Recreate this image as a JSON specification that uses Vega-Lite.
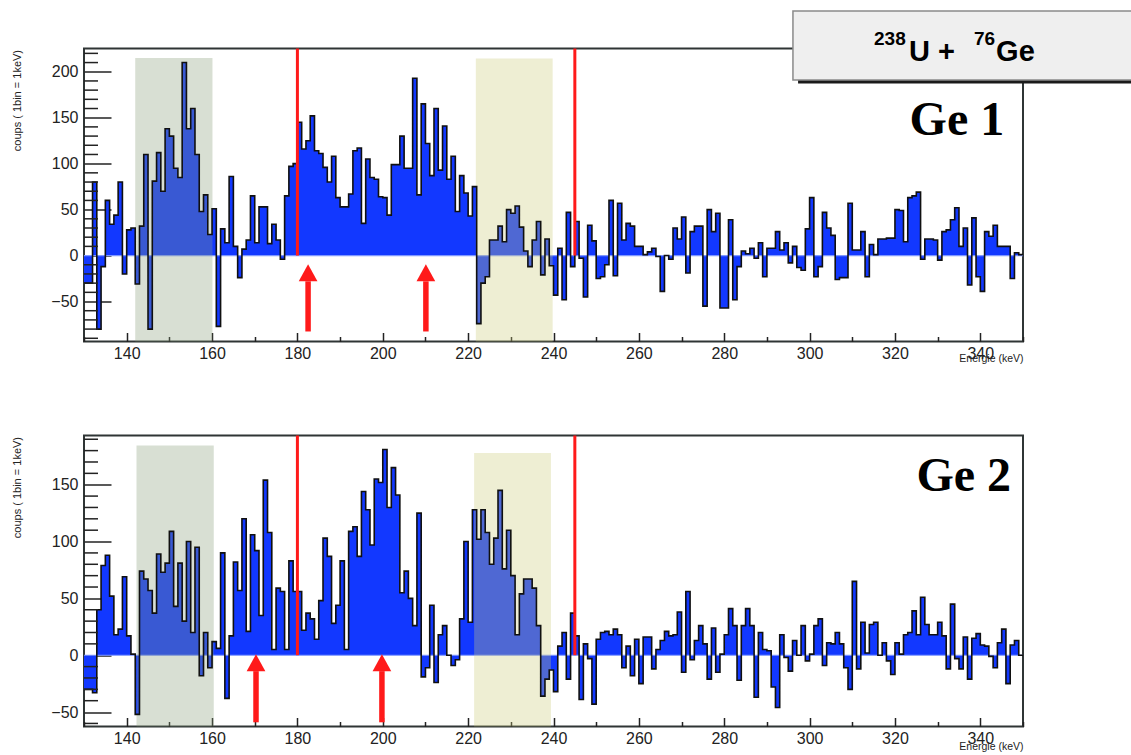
{
 "$schema": "https://vega.github.io/schema/vega-lite/v6.json",
 "autosize": {"type": "pad"},
 "padding": {"left": 9, "top": 8.5, "right": 0, "bottom": 5},
 "background": "#ffffff",
 "spacing": 94,
 "bounds": "flush",
 "resolve": {"scale": {"x": "independent", "y": "independent"}},
 "config": {"view": {"stroke": "#2f3535", "strokeWidth": 2}, "font": "Liberation Sans", "axis": {"zindex": 1, "labelOverlap": false}},
 "datasets": {
  "ge1": [
   {"e":130,"v":-30},{"e":131,"v":-30},{"e":132,"v":80},{"e":133,"v":-80},{"e":134,"v":-12},{"e":135,"v":60},{"e":136,"v":34},{"e":137,"v":44},{"e":138,"v":80},{"e":139,"v":-20},
   {"e":140,"v":28},{"e":141,"v":30},{"e":142,"v":-31},{"e":143,"v":32},{"e":144,"v":110},{"e":145,"v":-80},{"e":146,"v":81},{"e":147,"v":112},{"e":148,"v":70},{"e":149,"v":138},
   {"e":150,"v":130},{"e":151,"v":95},{"e":152,"v":85},{"e":153,"v":210},{"e":154,"v":138},{"e":155,"v":160},{"e":156,"v":110},{"e":157,"v":48},{"e":158,"v":66},{"e":159,"v":23},
   {"e":160,"v":51},{"e":161,"v":-77},{"e":162,"v":29},{"e":163,"v":14},{"e":164,"v":86},{"e":165,"v":10},{"e":166,"v":-24},{"e":167,"v":7},{"e":168,"v":17},{"e":169,"v":65},
   {"e":170,"v":14},{"e":171,"v":53},{"e":172,"v":53},{"e":173,"v":13},{"e":174,"v":34},{"e":175,"v":17},{"e":176,"v":-4},{"e":177,"v":65},{"e":178,"v":97},{"e":179,"v":100},
   {"e":180,"v":145},{"e":181,"v":116},{"e":182,"v":125},{"e":183,"v":152},{"e":184,"v":114},{"e":185,"v":111},{"e":186,"v":96},{"e":187,"v":80},{"e":188,"v":108},{"e":189,"v":63},
   {"e":190,"v":53},{"e":191,"v":53},{"e":192,"v":67},{"e":193,"v":114},{"e":194,"v":117},{"e":195,"v":35},{"e":196,"v":105},{"e":197,"v":85},{"e":198,"v":83},{"e":199,"v":64},
   {"e":200,"v":63},{"e":201,"v":44},{"e":202,"v":99},{"e":203,"v":99},{"e":204,"v":130},{"e":205,"v":95},{"e":206,"v":95},{"e":207,"v":193},{"e":208,"v":66},{"e":209,"v":165},
   {"e":210,"v":122},{"e":211,"v":87},{"e":212,"v":160},{"e":213,"v":93},{"e":214,"v":141},{"e":215,"v":83},{"e":216,"v":108},{"e":217,"v":48},{"e":218,"v":87},{"e":219,"v":68},
   {"e":220,"v":43},{"e":221,"v":75},{"e":222,"v":-74},{"e":223,"v":-30},{"e":224,"v":-23},{"e":225,"v":17},{"e":226,"v":17},{"e":227,"v":32},{"e":228,"v":15},{"e":229,"v":50},
   {"e":230,"v":46},{"e":231,"v":54},{"e":232,"v":31},{"e":233,"v":5},{"e":234,"v":-12},{"e":235,"v":17},{"e":236,"v":37},{"e":237,"v":-21},{"e":238,"v":18},{"e":239,"v":-11},
   {"e":240,"v":-43},{"e":241,"v":8},{"e":242,"v":-48},{"e":243,"v":47},{"e":244,"v":-12},{"e":245,"v":37},{"e":246,"v":-3},{"e":247,"v":-45},{"e":248,"v":33},{"e":249,"v":16},
   {"e":250,"v":-25},{"e":251,"v":-23},{"e":252,"v":-10},{"e":253,"v":60},{"e":254,"v":-22},{"e":255,"v":57},{"e":256,"v":17},{"e":257,"v":35},{"e":258,"v":32},{"e":259,"v":10},
   {"e":260,"v":10},{"e":261,"v":1},{"e":262,"v":4},{"e":263,"v":8},{"e":264,"v":-1},{"e":265,"v":-39},{"e":266,"v":0},{"e":267,"v":-4},{"e":268,"v":30},{"e":269,"v":18},
   {"e":270,"v":42},{"e":271,"v":-19},{"e":272,"v":26},{"e":273,"v":32},{"e":274,"v":32},{"e":275,"v":-55},{"e":276,"v":50},{"e":277,"v":26},{"e":278,"v":46},{"e":279,"v":-57},
   {"e":280,"v":-57},{"e":281,"v":39},{"e":282,"v":-48},{"e":283,"v":-12},{"e":284,"v":5},{"e":285,"v":2},{"e":286,"v":8},{"e":287,"v":-3},{"e":288,"v":14},{"e":289,"v":-23},
   {"e":290,"v":8},{"e":291,"v":8},{"e":292,"v":26},{"e":293,"v":6},{"e":294,"v":14},{"e":295,"v":-8},{"e":296,"v":10},{"e":297,"v":-13},{"e":298,"v":-16},{"e":299,"v":29},
   {"e":300,"v":63},{"e":301,"v":-23},{"e":302,"v":-12},{"e":303,"v":47},{"e":304,"v":30},{"e":305,"v":22},{"e":306,"v":-26},{"e":307,"v":-24},{"e":308,"v":-24},{"e":309,"v":57},
   {"e":310,"v":6},{"e":311,"v":6},{"e":312,"v":26},{"e":313,"v":-23},{"e":314,"v":12},{"e":315,"v":1},{"e":316,"v":18},{"e":317,"v":18},{"e":318,"v":19},{"e":319,"v":19},
   {"e":320,"v":50},{"e":321,"v":49},{"e":322,"v":15},{"e":323,"v":63},{"e":324,"v":65},{"e":325,"v":69},{"e":326,"v":-4},{"e":327,"v":18},{"e":328,"v":18},{"e":329,"v":17},
   {"e":330,"v":-5},{"e":331,"v":26},{"e":332,"v":28},{"e":333,"v":39},{"e":334,"v":52},{"e":335,"v":10},{"e":336,"v":30},{"e":337,"v":-32},{"e":338,"v":41},{"e":339,"v":-23},
   {"e":340,"v":-39},{"e":341,"v":26},{"e":342,"v":21},{"e":343,"v":33},{"e":344,"v":10},{"e":345,"v":10},{"e":346,"v":10},{"e":347,"v":-25},{"e":348,"v":3},{"e":349,"v":1},
   {"e":350,"v":1}
  ],
  "ge2": [
   {"e":130,"v":-30},{"e":131,"v":-30},{"e":132,"v":-33},{"e":133,"v":40},{"e":134,"v":79},{"e":135,"v":88},{"e":136,"v":52},{"e":137,"v":18},{"e":138,"v":23},{"e":139,"v":69},
   {"e":140,"v":17},{"e":141,"v":1},{"e":142,"v":-52},{"e":143,"v":74},{"e":144,"v":67},{"e":145,"v":57},{"e":146,"v":37},{"e":147,"v":89},{"e":148,"v":73},{"e":149,"v":81},
   {"e":150,"v":109},{"e":151,"v":43},{"e":152,"v":81},{"e":153,"v":30},{"e":154,"v":100},{"e":155,"v":20},{"e":156,"v":95},{"e":157,"v":-18},{"e":158,"v":20},{"e":159,"v":-11},
   {"e":160,"v":12},{"e":161,"v":6},{"e":162,"v":90},{"e":163,"v":-38},{"e":164,"v":17},{"e":165,"v":82},{"e":166,"v":57},{"e":167,"v":120},{"e":168,"v":21},{"e":169,"v":106},
   {"e":170,"v":92},{"e":171,"v":35},{"e":172,"v":154},{"e":173,"v":108},{"e":174,"v":5},{"e":175,"v":59},{"e":176,"v":56},{"e":177,"v":5},{"e":178,"v":83},{"e":179,"v":56},
   {"e":180,"v":56},{"e":181,"v":22},{"e":182,"v":37},{"e":183,"v":32},{"e":184,"v":14},{"e":185,"v":48},{"e":186,"v":103},{"e":187,"v":87},{"e":188,"v":28},{"e":189,"v":44},
   {"e":190,"v":83},{"e":191,"v":5},{"e":192,"v":109},{"e":193,"v":113},{"e":194,"v":87},{"e":195,"v":144},{"e":196,"v":128},{"e":197,"v":97},{"e":198,"v":155},{"e":199,"v":152},
   {"e":200,"v":181},{"e":201,"v":130},{"e":202,"v":165},{"e":203,"v":141},{"e":204,"v":55},{"e":205,"v":74},{"e":206,"v":50},{"e":207,"v":26},{"e":208,"v":125},{"e":209,"v":-19},
   {"e":210,"v":-11},{"e":211,"v":44},{"e":212,"v":-24},{"e":213,"v":18},{"e":214,"v":26},{"e":215,"v":0},{"e":216,"v":-9},{"e":217,"v":-4},{"e":218,"v":32},{"e":219,"v":100},
   {"e":220,"v":29},{"e":221,"v":128},{"e":222,"v":102},{"e":223,"v":128},{"e":224,"v":108},{"e":225,"v":80},{"e":226,"v":103},{"e":227,"v":145},{"e":228,"v":76},{"e":229,"v":110},
   {"e":230,"v":70},{"e":231,"v":18},{"e":232,"v":54},{"e":233,"v":67},{"e":234,"v":67},{"e":235,"v":59},{"e":236,"v":26},{"e":237,"v":-36},{"e":238,"v":-21},{"e":239,"v":-13},
   {"e":240,"v":-32},{"e":241,"v":8},{"e":242,"v":20},{"e":243,"v":-21},{"e":244,"v":37},{"e":245,"v":17},{"e":246,"v":-39},{"e":247,"v":10},{"e":248,"v":-3},{"e":249,"v":-43},
   {"e":250,"v":14},{"e":251,"v":20},{"e":252,"v":21},{"e":253,"v":18},{"e":254,"v":23},{"e":255,"v":18},{"e":256,"v":-11},{"e":257,"v":8},{"e":258,"v":-18},{"e":259,"v":14},
   {"e":260,"v":-25},{"e":261,"v":16},{"e":262,"v":16},{"e":263,"v":-12},{"e":264,"v":5},{"e":265,"v":13},{"e":266,"v":21},{"e":267,"v":17},{"e":268,"v":18},{"e":269,"v":38},
   {"e":270,"v":-15},{"e":271,"v":56},{"e":272,"v":-4},{"e":273,"v":13},{"e":274,"v":26},{"e":275,"v":10},{"e":276,"v":-21},{"e":277,"v":24},{"e":278,"v":-15},{"e":279,"v":1},
   {"e":280,"v":18},{"e":281,"v":41},{"e":282,"v":26},{"e":283,"v":-22},{"e":284,"v":26},{"e":285,"v":41},{"e":286,"v":26},{"e":287,"v":-37},{"e":288,"v":20},{"e":289,"v":5},
   {"e":290,"v":4},{"e":291,"v":-28},{"e":292,"v":-46},{"e":293,"v":18},{"e":294,"v":-2},{"e":295,"v":-14},{"e":296,"v":13},{"e":297,"v":0},{"e":298,"v":26},{"e":299,"v":-5},
   {"e":300,"v":1},{"e":301,"v":26},{"e":302,"v":32},{"e":303,"v":-9},{"e":304,"v":11},{"e":305,"v":10},{"e":306,"v":20},{"e":307,"v":10},{"e":308,"v":-11},{"e":309,"v":-30},
   {"e":310,"v":65},{"e":311,"v":-12},{"e":312,"v":29},{"e":313,"v":2},{"e":314,"v":27},{"e":315,"v":29},{"e":316,"v":0},{"e":317,"v":11},{"e":318,"v":-5},{"e":319,"v":-17},
   {"e":320,"v":11},{"e":321,"v":1},{"e":322,"v":18},{"e":323,"v":20},{"e":324,"v":39},{"e":325,"v":18},{"e":326,"v":51},{"e":327,"v":27},{"e":328,"v":18},{"e":329,"v":18},
   {"e":330,"v":29},{"e":331,"v":17},{"e":332,"v":-12},{"e":333,"v":45},{"e":334,"v":-3},{"e":335,"v":-12},{"e":336,"v":16},{"e":337,"v":-21},{"e":338,"v":15},{"e":339,"v":19},
   {"e":340,"v":9},{"e":341,"v":8},{"e":342,"v":-1},{"e":343,"v":-11},{"e":344,"v":11},{"e":345,"v":23},{"e":346,"v":-25},{"e":347,"v":9},{"e":348,"v":13},{"e":349,"v":0},
   {"e":350,"v":0}
  ],
  "yminor1": [{"t":-90},{"t":-80},{"t":-70},{"t":-60},{"t":-40},{"t":-30},{"t":-20},{"t":-10},{"t":10},{"t":20},{"t":30},{"t":40},{"t":60},{"t":70},{"t":80},{"t":90},{"t":110},{"t":120},{"t":130},{"t":140},{"t":160},{"t":170},{"t":180},{"t":190},{"t":210},{"t":220}],
  "yminor2": [{"t":-60},{"t":-40},{"t":-30},{"t":-20},{"t":-10},{"t":10},{"t":20},{"t":30},{"t":40},{"t":60},{"t":70},{"t":80},{"t":90},{"t":110},{"t":120},{"t":130},{"t":140},{"t":160},{"t":170},{"t":180},{"t":190}]
 },
 "vconcat": [
  {
   "width": 939, "height": 293,
   "layer": [
    {"data": {"name": "ge1"},
     "mark": {"type": "area", "interpolate": "step-after", "color": "#1238ff", "opacity": 1},
     "encoding": {
      "x": {"field": "e", "type": "quantitative", "scale": {"domain": [130, 350], "nice": false, "zero": false},
       "axis": {"values": [130,135,140,145,150,155,160,165,170,175,180,185,190,195,200,205,210,215,220,225,230,235,240,245,250,255,260,265,270,275,280,285,290,295,300,305,310,315,320,325,330,335,340,345,350],
        "title": "Energie (keV)", "titleFontSize": 10.5, "titleFontWeight": "normal", "titleColor": "#222", "titleX": 939, "titleY": 20, "titleAlign": "right", "titleAnchor": "end", "titleBaseline": "alphabetic", "titleAngle": 0,
        "labelExpr": "datum.value % 20 === 0 ? datum.label : ''",
        "labelFontSize": {"condition": {"test": "datum.value % 20 === 0", "value": 16}, "value": 0},
        "tickSize": {"condition": {"test": "datum.value % 20 === 0", "value": -9}, "value": -5},
        "labelPadding": 13, "labelColor": "#222", "labelOverlap": false, "labelFlush": false,
        "tickColor": "#222", "tickWidth": 1.5, "domain": false, "grid": false}},
      "y": {"field": "v", "type": "quantitative", "scale": {"domain": [-93.5, 225.3], "nice": false, "zero": false},
       "axis": {"values": [-50, 0, 50, 100, 150, 200],
        "title": "coups ( 1bin = 1keV)", "titleFontSize": 11, "titleFontWeight": "normal", "titleColor": "#222", "titleX": -67, "titleY": 1, "titleAngle": -90, "titleAlign": "right", "titleBaseline": "middle",
        "tickSize": -27, "labelPadding": 33, "labelFontSize": 16, "labelColor": "#222", "labelOverlap": false, "labelFlush": false,
        "tickColor": "#222", "tickWidth": 1.5, "domain": false, "grid": false}},
      "y2": {"datum": 0}
     }},
    {"data": {"values": [{}]}, "mark": {"type": "rule", "color": "#7f97ff", "strokeWidth": 1.2}, "encoding": {"y": {"datum": 0}}},
    {"data": {"values": [{}]}, "mark": {"type": "rect", "color": "#8a9f78", "opacity": 0.33},
     "encoding": {"x": {"datum": 142}, "x2": {"datum": 160.1}, "y": {"datum": 215}, "y2": {"datum": -93.5}}},
    {"data": {"values": [{}]}, "mark": {"type": "rect", "color": "#cccc78", "opacity": 0.33},
     "encoding": {"x": {"datum": 221.8}, "x2": {"datum": 239.8}, "y": {"datum": 214.5}, "y2": {"datum": -93.5}}},
    {"data": {"name": "ge1"}, "mark": {"type": "line", "interpolate": "step-after", "color": "#101010", "strokeWidth": 1.6},
     "encoding": {"x": {"field": "e", "type": "quantitative"}, "y": {"field": "v", "type": "quantitative"}}},
    {"data": {"name": "yminor1"}, "mark": {"type": "rule", "color": "#222", "strokeWidth": 1.5},
     "encoding": {"y": {"field": "t", "type": "quantitative"}, "x": {"datum": 130}, "x2": {"datum": 133.28}}},
    {"data": {"values": [{"e": 180}, {"e": 245}]}, "mark": {"type": "rule", "color": "#ff1a1a", "strokeWidth": 3},
     "encoding": {"x": {"field": "e", "type": "quantitative"}, "y": {"datum": 225.3}, "y2": {"datum": 0}}},
    {"data": {"values": [{"e": 182.5}, {"e": 210.1}]}, "mark": {"type": "rule", "color": "#ff1a1a", "strokeWidth": 5.5},
     "encoding": {"x": {"field": "e", "type": "quantitative"}, "y": {"datum": -82.6}, "y2": {"datum": -28}}},
    {"data": {"values": [{"e": 182.5}, {"e": 210.1}]}, "mark": {"type": "point", "shape": "M0,-1L0.55,0L-0.55,0Z", "size": 1156, "filled": true, "color": "#ff1a1a", "opacity": 1, "strokeWidth": 0},
     "encoding": {"x": {"field": "e", "type": "quantitative"}, "y": {"datum": -28}}},
    {"data": {"values": [{}]}, "mark": {"type": "text", "text": "Ge 1", "font": "Liberation Serif", "fontWeight": "bold", "fontSize": 48, "align": "right", "baseline": "alphabetic", "color": "#000000"},
     "encoding": {"x": {"datum": 345.6}, "y": {"datum": 131.5}}},
    {"data": {"values": [{}]}, "mark": {"type": "rect", "color": "#1a1a1a"},
     "encoding": {"x": {"datum": 297.3}, "x2": {"datum": 376}, "y": {"datum": 263}, "y2": {"datum": 187.3}}},
    {"data": {"values": [{}]}, "mark": {"type": "rect", "fill": "#efefef", "stroke": "#8a8a8a", "strokeWidth": 1.5},
     "encoding": {"x": {"datum": 296.1}, "x2": {"datum": 376}, "y": {"datum": 266}, "y2": {"datum": 191}}},
    {"data": {"values": [{}]}, "mark": {"type": "text", "text": "238", "fontWeight": "bold", "fontSize": 19, "align": "left", "baseline": "alphabetic", "color": "#000000"},
     "encoding": {"x": {"datum": 315.1}, "y": {"datum": 229}}},
    {"data": {"values": [{}]}, "mark": {"type": "text", "text": "U +", "fontWeight": "bold", "fontSize": 29, "align": "left", "baseline": "alphabetic", "color": "#000000"},
     "encoding": {"x": {"datum": 323.3}, "y": {"datum": 211.6}}},
    {"data": {"values": [{}]}, "mark": {"type": "text", "text": "76", "fontWeight": "bold", "fontSize": 19, "align": "left", "baseline": "alphabetic", "color": "#000000"},
     "encoding": {"x": {"datum": 338.5}, "y": {"datum": 229}}},
    {"data": {"values": [{}]}, "mark": {"type": "text", "text": "Ge", "fontWeight": "bold", "fontSize": 29, "align": "left", "baseline": "alphabetic", "color": "#000000"},
     "encoding": {"x": {"datum": 343.7}, "y": {"datum": 211.6}}}
   ]
  },
  {
   "width": 939, "height": 291,
   "layer": [
    {"data": {"name": "ge2"},
     "mark": {"type": "area", "interpolate": "step-after", "color": "#1238ff", "opacity": 1},
     "encoding": {
      "x": {"field": "e", "type": "quantitative", "scale": {"domain": [130, 350], "nice": false, "zero": false},
       "axis": {"values": [130,135,140,145,150,155,160,165,170,175,180,185,190,195,200,205,210,215,220,225,230,235,240,245,250,255,260,265,270,275,280,285,290,295,300,305,310,315,320,325,330,335,340,345,350],
        "title": "Energie (keV)", "titleFontSize": 10.5, "titleFontWeight": "normal", "titleColor": "#222", "titleX": 939, "titleY": 23, "titleAlign": "right", "titleAnchor": "end", "titleBaseline": "alphabetic", "titleAngle": 0,
        "labelExpr": "datum.value % 20 === 0 ? datum.label : ''",
        "labelFontSize": {"condition": {"test": "datum.value % 20 === 0", "value": 16}, "value": 0},
        "tickSize": {"condition": {"test": "datum.value % 20 === 0", "value": -9}, "value": -5},
        "labelPadding": 13, "labelColor": "#222", "labelOverlap": false, "labelFlush": false,
        "tickColor": "#222", "tickWidth": 1.5, "domain": false, "grid": false}},
      "y": {"field": "v", "type": "quantitative", "scale": {"domain": [-62.7, 193.3], "nice": false, "zero": false},
       "axis": {"values": [-50, 0, 50, 100, 150],
        "title": "coups ( 1bin = 1keV)", "titleFontSize": 11, "titleFontWeight": "normal", "titleColor": "#222", "titleX": -67, "titleY": 1, "titleAngle": -90, "titleAlign": "right", "titleBaseline": "middle",
        "tickSize": -27, "labelPadding": 33, "labelFontSize": 16, "labelColor": "#222", "labelOverlap": false, "labelFlush": false,
        "tickColor": "#222", "tickWidth": 1.5, "domain": false, "grid": false}},
      "y2": {"datum": 0}
     }},
    {"data": {"values": [{}]}, "mark": {"type": "rule", "color": "#7f97ff", "strokeWidth": 1.2}, "encoding": {"y": {"datum": 0}}},
    {"data": {"values": [{}]}, "mark": {"type": "rect", "color": "#8a9f78", "opacity": 0.33},
     "encoding": {"x": {"datum": 142.3}, "x2": {"datum": 160.4}, "y": {"datum": 184.5}, "y2": {"datum": -62.7}}},
    {"data": {"values": [{}]}, "mark": {"type": "rect", "color": "#cccc78", "opacity": 0.33},
     "encoding": {"x": {"datum": 221.4}, "x2": {"datum": 239.4}, "y": {"datum": 178}, "y2": {"datum": -62.7}}},
    {"data": {"name": "ge2"}, "mark": {"type": "line", "interpolate": "step-after", "color": "#101010", "strokeWidth": 1.6},
     "encoding": {"x": {"field": "e", "type": "quantitative"}, "y": {"field": "v", "type": "quantitative"}}},
    {"data": {"name": "yminor2"}, "mark": {"type": "rule", "color": "#222", "strokeWidth": 1.5},
     "encoding": {"y": {"field": "t", "type": "quantitative"}, "x": {"datum": 130}, "x2": {"datum": 133.28}}},
    {"data": {"values": [{"e": 180}, {"e": 245}]}, "mark": {"type": "rule", "color": "#ff1a1a", "strokeWidth": 3},
     "encoding": {"x": {"field": "e", "type": "quantitative"}, "y": {"datum": 193.3}, "y2": {"datum": 0}}},
    {"data": {"values": [{"e": 170.3}, {"e": 199.8}]}, "mark": {"type": "rule", "color": "#ff1a1a", "strokeWidth": 5.5},
     "encoding": {"x": {"field": "e", "type": "quantitative"}, "y": {"datum": -59}, "y2": {"datum": -14}}},
    {"data": {"values": [{"e": 170.3}, {"e": 199.8}]}, "mark": {"type": "point", "shape": "M0,-1L0.55,0L-0.55,0Z", "size": 1156, "filled": true, "color": "#ff1a1a", "opacity": 1, "strokeWidth": 0},
     "encoding": {"x": {"field": "e", "type": "quantitative"}, "y": {"datum": -14}}},
    {"data": {"values": [{}]}, "mark": {"type": "text", "text": "Ge 2", "font": "Liberation Serif", "fontWeight": "bold", "fontSize": 48, "align": "right", "baseline": "alphabetic", "color": "#000000"},
     "encoding": {"x": {"datum": 347.2}, "y": {"datum": 144.7}}}
   ]
  }
 ]
}
